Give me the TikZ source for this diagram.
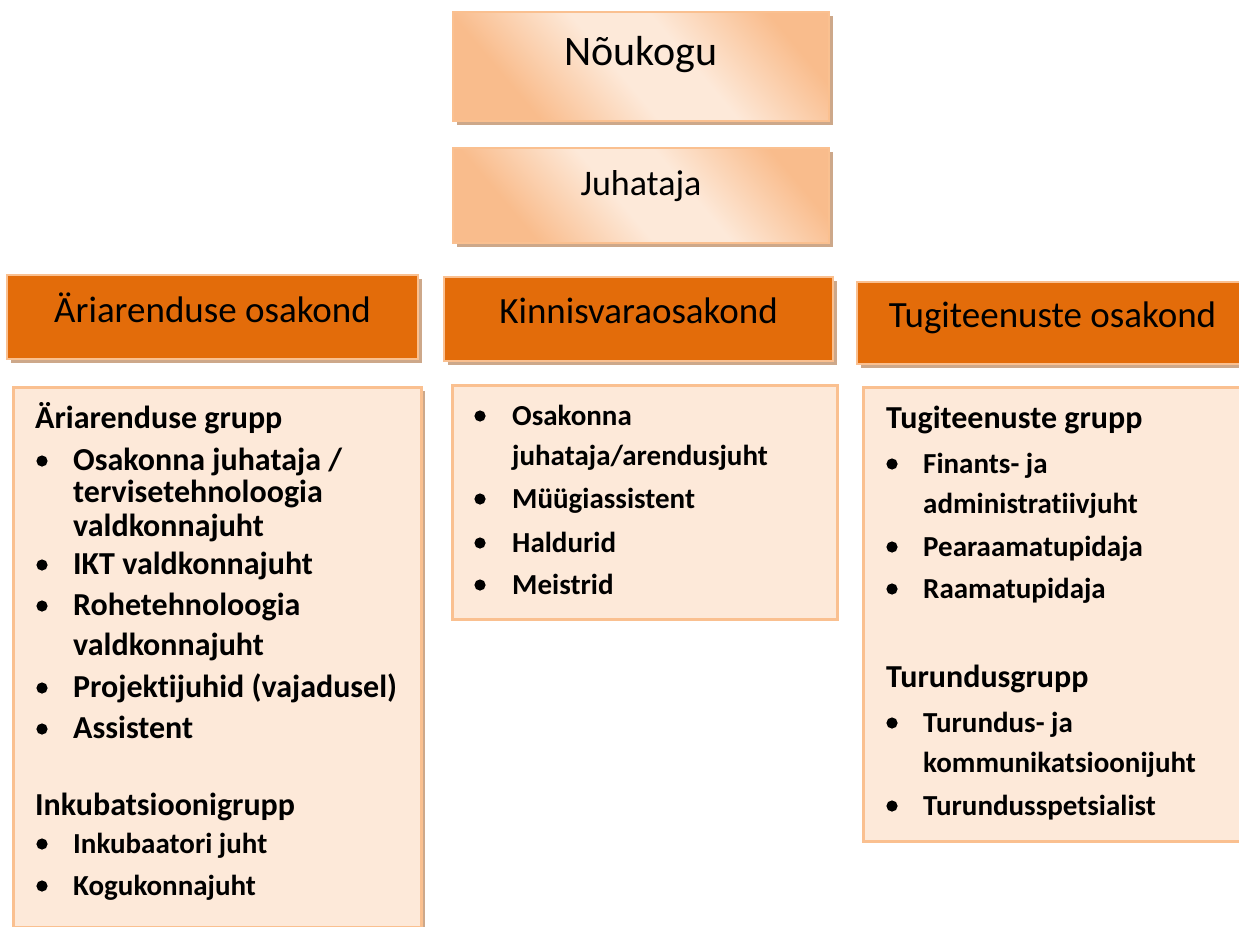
\documentclass[tikz,border=0pt]{standalone}
\usepackage{fontspec}
\setmainfont{Carlito}[Ligatures=NoCommon]
\usetikzlibrary{shadows}
\definecolor{deptorange}{RGB}{227, 108, 10}
\definecolor{peach}{RGB}{253, 233, 217}
\definecolor{peachdark}{RGB}{249, 188, 140}
\definecolor{peachline}{RGB}{250, 192, 144}
\definecolor{shadowtan}{RGB}{205, 168, 138}
\pgfdeclarehorizontalshading{peachband}{100bp}{%
    color(0bp)=(peachdark); color(28bp)=(peachdark); color(46bp)=(peach);
    color(58bp)=(peach); color(76bp)=(peachdark); color(100bp)=(peachdark)}
\tikzset{
    tanshadow/.style={drop shadow={shadow xshift=4pt, shadow yshift=-4pt,
        fill=shadowtan, opacity=1}},
    topbox/.style={draw=peachline, line width=2pt, shade, shading=peachband,
        shading angle=40, minimum width=376pt, inner sep=0pt, tanshadow},
    deptbox/.style={draw=peachline, line width=2pt, fill=deptorange, inner sep=0pt,
        font=\fontsize{37}{37}\selectfont, tanshadow},
    listbox/.style={draw=peachline, line width=3pt, fill=peach, inner sep=0pt},
    grouphead/.style={anchor=base west, inner sep=0pt,
        font=\bfseries\fontsize{32}{32}\selectfont},
    bigitem/.style={grouphead},
    smallitem/.style={anchor=base west, inner sep=0pt,
        font=\bfseries\fontsize{29}{29}\selectfont}
}
\begin{document}
\begin{tikzpicture}[x=1pt, y=-1pt]

    \fill[white, use as bounding box] (0, 0) rectangle (1239, 926);

    \node[topbox, text height=53pt, text depth=56pt, font=\fontsize{42}{42}\selectfont]
        (noukogu) at (641, 66.5) {Nõukogu};
    \node[topbox, text height=47pt, text depth=48pt, font=\fontsize{36}{36}\selectfont]
        (juhataja) at (641, 195.5) {Juhataja};

    \node[deptbox, minimum width=411pt, text height=47pt, text depth=37pt]
        (ariosakond) at (212.5, 317) {Äriarenduse osakond};
    \node[deptbox, minimum width=389pt, text height=46pt, text depth=38pt]
        (kinnisvara) at (638.5, 319) {Kinnisvaraosakond};
    \node[deptbox, minimum width=391pt, text height=45pt, text depth=37pt]
        (tugiosakond) at (1052.5, 323) {Tugiteenuste osakond};

    \node[listbox, minimum width=408pt, minimum height=540pt, tanshadow]
        (arilist) at (217, 657) {};
    \node[listbox, minimum width=385pt, minimum height=234pt]
        (kinnisvaralist) at (644.5, 502) {};
    \node[listbox, minimum width=387pt, minimum height=454pt]
        (tugilist) at (1056.5, 614) {};

    \node[grouphead] (arigrupp) at (35, 428) {Äriarenduse grupp};
    \foreach \y/\t [count=\i] in {470/{Osakonna juhataja /}, 502/tervisetehnoloogia,
        536/valdkonnajuht, 574/IKT valdkonnajuht, 615/Rohetehnoloogia,
        655/valdkonnajuht, 697/Projektijuhid (vajadusel), 738/Assistent} {%
        \node[bigitem] (ari\i) at (73, \y) {\t};
    };
    \node[grouphead] (inkgrupp) at (35, 815) {Inkubatsioonigrupp};
    \foreach \y/\t [count=\i] in {853/Inkubaatori juht, 895/Kogukonnajuht} {%
        \node[smallitem] (ink\i) at (73, \y) {\t};
    };
    \foreach \y in {470, 574, 615, 697, 738, 853, 895} {%
        \fill (42, \y-9) circle (5.6);
    };

    \foreach \y/\t [count=\i] in {425/Osakonna, 465/{juhataja/arendusjuht},
        508/Müügiassistent, 552/Haldurid, 594/Meistrid} {%
        \node[smallitem] (kv\i) at (512, \y) {\t};
    };
    \foreach \y in {425, 508, 552, 594} {%
        \fill (480, \y-9) circle (5.6);
    };

    \node[grouphead] (tugigrupp) at (886, 428) {Tugiteenuste grupp};
    \foreach \y/\t [count=\i] in {473/Finants- ja, 513/administratiivjuht,
        556/Pearaamatupidaja, 598/Raamatupidaja} {%
        \node[smallitem] (tugi\i) at (923, \y) {\t};
    };
    \node[grouphead] (turgrupp) at (886, 687) {Turundusgrupp};
    \foreach \y/\t [count=\i] in {732/Turundus- ja, 772/kommunikatsioonijuht,
        815/Turundusspetsialist} {%
        \node[smallitem] (tur\i) at (923, \y) {\t};
    };
    \foreach \y in {473, 556, 598, 732, 815} {%
        \fill (892, \y-9) circle (5.6);
    };

\end{tikzpicture}
\end{document}
